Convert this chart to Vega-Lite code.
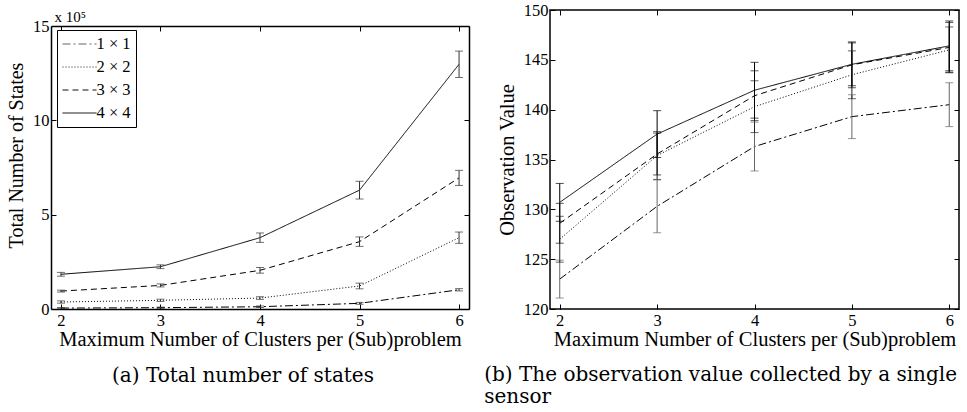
{
  "$schema": "https://vega.github.io/schema/vega-lite/v6.json",
  "padding": {"left": 6, "top": 1, "right": 2, "bottom": 2},
  "background": "white",
  "spacing": 13,
  "config": {
    "view": {"stroke": "black", "strokeWidth": 1.5},
    "axis": {
      "domain": false, "grid": false,
      "tickSize": -5, "tickColor": "black", "tickWidth": 1,
      "labelFont": "Liberation Serif", "labelFontSize": 16.5, "labelColor": "black", "labelPadding": 7,
      "titleFont": "Liberation Serif", "titleFontSize": 20, "titleFontWeight": "normal", "titleColor": "black"
    },
    "legend": {
      "orient": "top-left", "offset": 5, "padding": 5,
      "strokeColor": "black", "fillColor": "white",
      "labelFont": "Liberation Serif", "labelFontSize": 16.5, "labelColor": "black",
      "symbolType": "M-2,0H2", "symbolStrokeColor": "black", "symbolFillColor": "transparent", "symbolStrokeWidth": 1,
      "symbolSize": 289, "symbolOffset": 8.5, "rowPadding": 5, "labelOffset": 8
    },
    "title": {"font": "DejaVu Serif", "fontSize": 20, "fontWeight": "normal", "color": "black"}
  },
  "datasets": {
    "left": [
      {"s": "1 × 1", "x": 2, "y": 5000, "lo": 2000, "hi": 8000},
      {"s": "1 × 1", "x": 3, "y": 7000, "lo": 4000, "hi": 10000},
      {"s": "1 × 1", "x": 4, "y": 12000, "lo": 8000, "hi": 16000},
      {"s": "1 × 1", "x": 5, "y": 30000, "lo": 25000, "hi": 35000},
      {"s": "1 × 1", "x": 6, "y": 102000, "lo": 96000, "hi": 108000},
      {"s": "2 × 2", "x": 2, "y": 37000, "lo": 31000, "hi": 43000},
      {"s": "2 × 2", "x": 3, "y": 46000, "lo": 40000, "hi": 52000},
      {"s": "2 × 2", "x": 4, "y": 58000, "lo": 51000, "hi": 65000},
      {"s": "2 × 2", "x": 5, "y": 122000, "lo": 107000, "hi": 137000},
      {"s": "2 × 2", "x": 6, "y": 378000, "lo": 348000, "hi": 408000},
      {"s": "3 × 3", "x": 2, "y": 95000, "lo": 90000, "hi": 100000},
      {"s": "3 × 3", "x": 3, "y": 125000, "lo": 117000, "hi": 133000},
      {"s": "3 × 3", "x": 4, "y": 205000, "lo": 190000, "hi": 220000},
      {"s": "3 × 3", "x": 5, "y": 357000, "lo": 332000, "hi": 382000},
      {"s": "3 × 3", "x": 6, "y": 695000, "lo": 655000, "hi": 735000},
      {"s": "4 × 4", "x": 2, "y": 184000, "lo": 174000, "hi": 194000},
      {"s": "4 × 4", "x": 3, "y": 224000, "lo": 214000, "hi": 234000},
      {"s": "4 × 4", "x": 4, "y": 378000, "lo": 353000, "hi": 403000},
      {"s": "4 × 4", "x": 5, "y": 630000, "lo": 583000, "hi": 677000},
      {"s": "4 × 4", "x": 6, "y": 1297000, "lo": 1227000, "hi": 1367000}
    ],
    "right": [
      {"s": "1 × 1", "x": 2, "y": 123.0, "lo": 121.1, "hi": 124.9},
      {"s": "1 × 1", "x": 3, "y": 130.3, "lo": 127.65, "hi": 132.95},
      {"s": "1 × 1", "x": 4, "y": 136.3, "lo": 133.85, "hi": 138.75},
      {"s": "1 × 1", "x": 5, "y": 139.3, "lo": 137.1, "hi": 141.5},
      {"s": "1 × 1", "x": 6, "y": 140.5, "lo": 138.3, "hi": 142.7},
      {"s": "2 × 2", "x": 2, "y": 127.0, "lo": 124.7, "hi": 129.3},
      {"s": "2 × 2", "x": 3, "y": 135.4, "lo": 133.0, "hi": 137.8},
      {"s": "2 × 2", "x": 4, "y": 140.3, "lo": 137.7, "hi": 142.9},
      {"s": "2 × 2", "x": 5, "y": 143.5, "lo": 141.1, "hi": 145.9},
      {"s": "2 × 2", "x": 6, "y": 146.0, "lo": 143.7, "hi": 148.3},
      {"s": "3 × 3", "x": 2, "y": 128.6, "lo": 126.6, "hi": 130.6},
      {"s": "3 × 3", "x": 3, "y": 135.55, "lo": 133.45, "hi": 137.65},
      {"s": "3 × 3", "x": 4, "y": 141.4, "lo": 138.9, "hi": 143.9},
      {"s": "3 × 3", "x": 5, "y": 144.5, "lo": 142.2, "hi": 146.8},
      {"s": "3 × 3", "x": 6, "y": 146.25, "lo": 143.75, "hi": 148.75},
      {"s": "4 × 4", "x": 2, "y": 130.7, "lo": 128.8, "hi": 132.6},
      {"s": "4 × 4", "x": 3, "y": 137.55, "lo": 135.2, "hi": 139.9},
      {"s": "4 × 4", "x": 4, "y": 141.95, "lo": 139.15, "hi": 144.75},
      {"s": "4 × 4", "x": 5, "y": 144.55, "lo": 142.4, "hi": 146.7},
      {"s": "4 × 4", "x": 6, "y": 146.4, "lo": 143.9, "hi": 148.9}
    ]
  },
  "hconcat": [
    {
      "width": 418, "height": 299,
      "view": {"stroke": null},
      "data": {"name": "left"},
      "resolve": {"axis": {"x": "independent", "y": "independent"}},
      "layer": [
        {
          "title": {"text": "(a) Total number of states", "orient": "bottom", "anchor": "middle", "offset": 16, "dx": -17},
          "mark": {"type": "line", "color": "black", "strokeWidth": 1},
          "encoding": {
            "x": {"field": "x", "type": "quantitative", "scale": {"domain": [1.9, 6.1], "nice": false, "zero": false},
                  "axis": {"values": [2, 3, 4, 5, 6], "title": "Maximum Number of Clusters per (Sub)problem", "titlePadding": 1, "titleFontSize": 20.5, "labelPadding": 8,
                           "domain": true, "domainColor": "black", "domainWidth": 1.5}},
            "y": {"field": "y", "type": "quantitative", "scale": {"domain": [0, 1500000], "nice": false, "range": [299, 16]},
                  "axis": {"values": [0, 500000, 1000000, 1500000], "labelExpr": "datum.value / 100000", "title": "Total Number of States", "titlePadding": 6, "titleFontSize": 20, "titleY": 145,
                           "domain": true, "domainColor": "black", "domainWidth": 1.5}},
            "strokeDash": {"field": "s", "type": "nominal",
                  "scale": {"domain": ["1 × 1", "2 × 2", "3 × 3", "4 × 4"], "range": [[8, 3, 2, 3], [1, 2], [6, 4], [1, 0]]},
                  "legend": {"title": null, "orient": "none", "legendX": 6, "legendY": 20}}
          }
        },
        {
          "mark": {"type": "rule", "color": "#333", "strokeWidth": 1},
          "encoding": {
            "x": {"field": "x", "type": "quantitative", "axis": {"orient": "top", "labels": false, "values": [2, 3, 4, 5, 6], "offset": -16,
                  "domain": true, "domainColor": "black", "domainWidth": 1.5,
                  "title": "x 10⁵", "titleFontSize": 15, "titleAnchor": "start", "titleAlign": "left", "titleBaseline": "alphabetic", "titleX": 3, "titleY": -5}},
            "y": {"field": "lo", "type": "quantitative", "axis": {"orient": "right", "labels": false, "title": null, "values": [0, 500000, 1000000, 1500000],
                  "domain": true, "domainColor": "black", "domainWidth": 1.5}},
            "y2": {"field": "hi"}
          }
        },
        {
          "mark": {"type": "tick", "orient": "horizontal", "color": "#333", "size": 8, "thickness": 1},
          "encoding": {
            "x": {"field": "x", "type": "quantitative", "axis": null},
            "y": {"field": "lo", "type": "quantitative", "axis": null}
          }
        },
        {
          "mark": {"type": "tick", "orient": "horizontal", "color": "#333", "size": 8, "thickness": 1},
          "encoding": {
            "x": {"field": "x", "type": "quantitative", "axis": null},
            "y": {"field": "hi", "type": "quantitative", "axis": null}
          }
        }
      ]
    },
    {
      "width": 409, "height": 299,
      "title": {"text": ["(b) The observation value collected by a single", "sensor"], "orient": "bottom", "anchor": "start", "offset": 15, "dx": -13, "lineHeight": 22},
      "data": {"name": "right"},
      "resolve": {"axis": {"x": "independent", "y": "independent"}},
      "layer": [
        {
          "mark": {"type": "line", "color": "black", "strokeWidth": 1},
          "encoding": {
            "x": {"field": "x", "type": "quantitative", "scale": {"domain": [1.9, 6.1], "nice": false, "zero": false},
                  "axis": {"values": [2, 3, 4, 5, 6], "title": "Maximum Number of Clusters per (Sub)problem", "titlePadding": 1, "titleFontSize": 20.5, "labelPadding": 8}},
            "y": {"field": "y", "type": "quantitative", "scale": {"domain": [120, 150], "nice": false, "zero": false},
                  "axis": {"values": [120, 125, 130, 135, 140, 145, 150], "title": "Observation Value", "titlePadding": 6, "titleFontSize": 20.5}},
            "strokeDash": {"field": "s", "type": "nominal",
                  "scale": {"domain": ["1 × 1", "2 × 2", "3 × 3", "4 × 4"], "range": [[8, 3, 2, 3], [1, 2], [6, 4], [1, 0]]},
                  "legend": {"title": null}}
          }
        },
        {
          "mark": {"type": "rule", "strokeWidth": 1},
          "encoding": {
            "x": {"field": "x", "type": "quantitative", "axis": {"orient": "top", "labels": false, "title": null, "values": [2, 3, 4, 5, 6]}},
            "y": {"field": "lo", "type": "quantitative", "axis": {"orient": "right", "labels": false, "title": null, "values": [120, 125, 130, 135, 140, 145, 150]}},
            "y2": {"field": "hi"},
            "color": {"field": "s", "type": "nominal", "scale": {"domain": ["1 × 1", "2 × 2", "3 × 3", "4 × 4"], "range": ["#666", "#222", "#111", "#000"]}, "legend": null}
          }
        },
        {
          "mark": {"type": "tick", "orient": "horizontal", "size": 8, "thickness": 1},
          "encoding": {
            "x": {"field": "x", "type": "quantitative", "axis": null},
            "y": {"field": "lo", "type": "quantitative", "axis": null},
            "color": {"field": "s", "type": "nominal", "legend": null}
          }
        },
        {
          "mark": {"type": "tick", "orient": "horizontal", "size": 8, "thickness": 1},
          "encoding": {
            "x": {"field": "x", "type": "quantitative", "axis": null},
            "y": {"field": "hi", "type": "quantitative", "axis": null},
            "color": {"field": "s", "type": "nominal", "legend": null}
          }
        }
      ]
    }
  ]
}
